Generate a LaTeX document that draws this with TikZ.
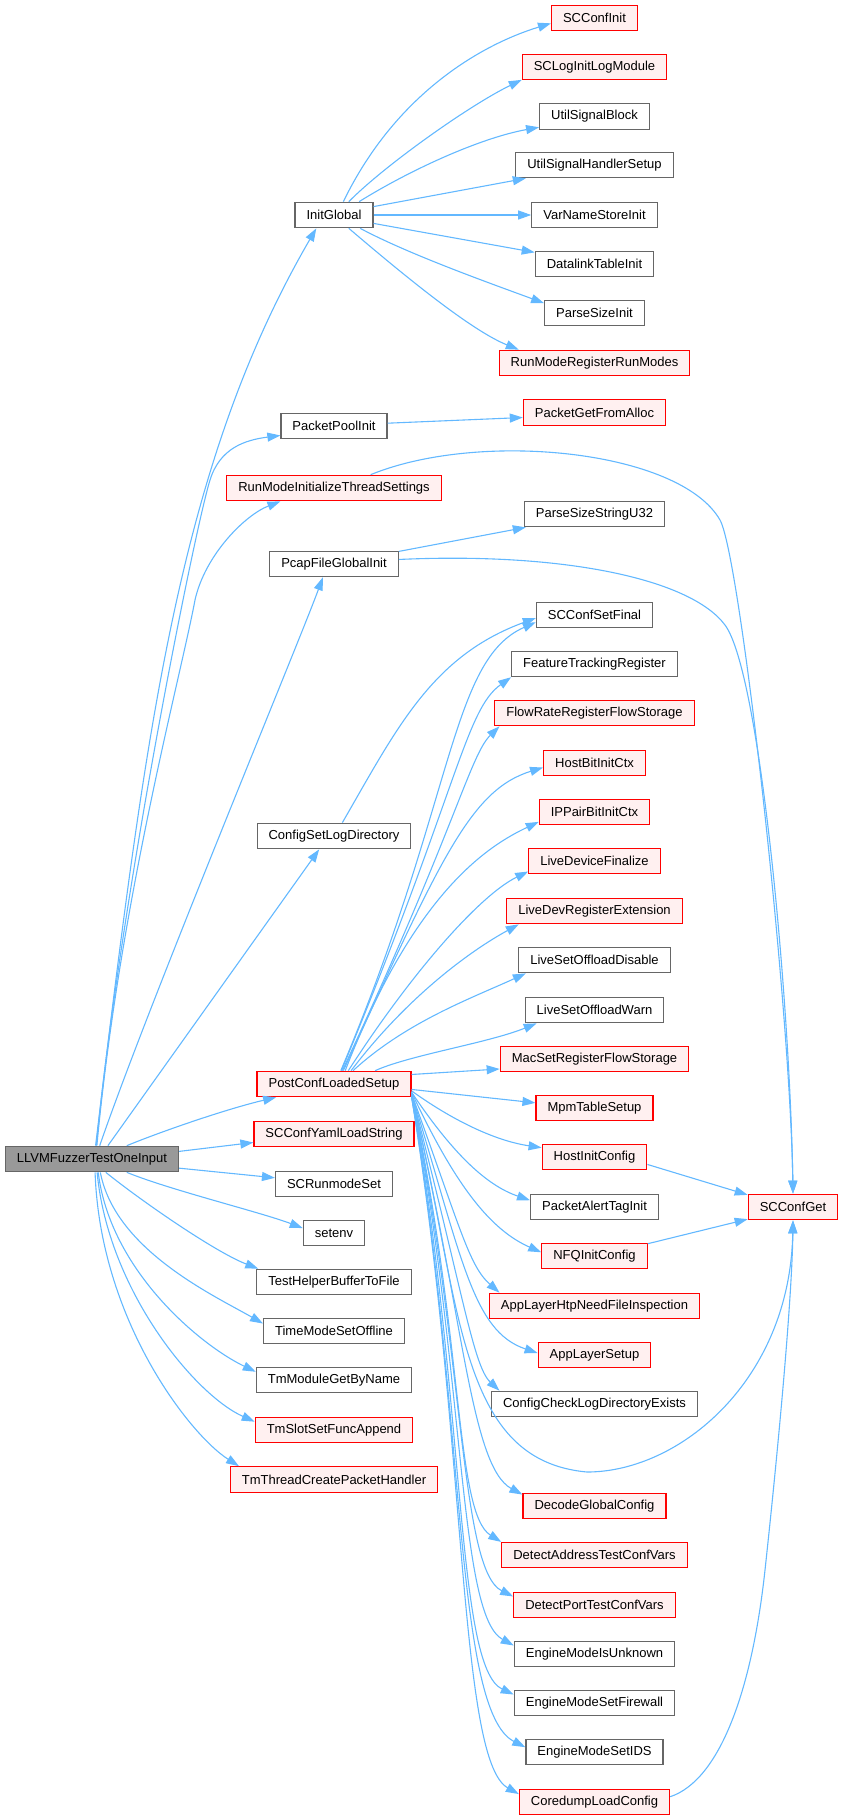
\documentclass[tikz,border=0pt]{standalone}
\usepackage{fontspec}
\setmainfont{Liberation Sans}
\usepackage{tikz}
\usetikzlibrary{arrows.meta,shapes}
\definecolor{callblue}{HTML}{63B8FF}
\definecolor{boxgray}{HTML}{666666}
\definecolor{boxred}{HTML}{FF0000}
\definecolor{redfill}{HTML}{FFF0F0}
\definecolor{rootfill}{HTML}{999999}
\tikzstyle{func}=[rectangle,draw=boxgray,fill=white,line width=1.2pt,minimum height=25.5pt,inner xsep=11.5pt,inner ysep=0pt,font=\fontsize{13}{15}\selectfont]
\tikzstyle{red func}=[func,draw=boxred,fill=redfill]
\tikzstyle{root func}=[func,fill=rootfill]
\tikzstyle{call}=[draw=callblue,line width=1.1pt,-{Triangle[length=13pt,width=9pt]}]

\begin{document}
\begin{tikzpicture}[x=1pt,y=-1pt]
    \useasboundingbox (0,0) rectangle (844,1820);
    \node[root func] (L) at (92,1159) {LLVMFuzzerTestOneInput};
    \foreach \pos/\name/\txt in {{(334,215)/IG/InitGlobal}, {(334,426)/PPI/PacketPoolInit}, {(334,564)/PFGI/PcapFileGlobalInit}, {(334,836)/CSLD/ConfigSetLogDirectory}, {(334,1184)/RMS/SCRunmodeSet}, {(334,1233)/ENV/setenv}, {(334,1282)/THB/TestHelperBufferToFile}, {(334,1331)/TMSO/TimeModeSetOffline}, {(334,1380)/TMGN/TmModuleGetByName}, {(594.5,116.5)/USB/UtilSignalBlock}, {(594.5,165)/USHS/UtilSignalHandlerSetup}, {(594.5,215)/VNSI/VarNameStoreInit}, {(594.5,264)/DLTI/DatalinkTableInit}, {(594.5,313)/PSI/ParseSizeInit}, {(594.5,514)/PSSU/ParseSizeStringU32}, {(594.5,615)/SCSF/SCConfSetFinal}, {(594.5,664)/FTR/FeatureTrackingRegister}, {(594.5,960)/LSOD/LiveSetOffloadDisable}, {(594.5,1010)/LSOW/LiveSetOffloadWarn}, {(594.5,1207)/PATI/PacketAlertTagInit}, {(594.5,1404)/CCLD/ConfigCheckLogDirectoryExists}, {(594.5,1654)/EMIU/EngineModeIsUnknown}, {(594.5,1703)/EMSF/EngineModeSetFirewall}, {(594.5,1752)/EMSI/EngineModeSetIDS}}
        \node[func] (\name) at \pos {\txt};
    \foreach \pos/\name/\txt in {{(334,488)/RMIT/RunModeInitializeThreadSettings}, {(334,1084)/PCLS/PostConfLoadedSetup}, {(334,1134)/YAML/SCConfYamlLoadString}, {(334,1430)/TSFA/TmSlotSetFuncAppend}, {(334,1479.5)/TTCP/TmThreadCreatePacketHandler}, {(594.5,18)/SCCI/SCConfInit}, {(594.5,67)/SCLI/SCLogInitLogModule}, {(594.5,363)/RMRR/RunModeRegisterRunModes}, {(594.5,412.5)/PGFA/PacketGetFromAlloc}, {(594.5,713)/FRRF/FlowRateRegisterFlowStorage}, {(594.5,763)/HBIC/HostBitInitCtx}, {(594.5,812)/IPBI/IPPairBitInitCtx}, {(594.5,861)/LDF/LiveDeviceFinalize}, {(594.5,911)/LDRE/LiveDevRegisterExtension}, {(594.5,1059)/MSRF/MacSetRegisterFlowStorage}, {(594.5,1108)/MPM/MpmTableSetup}, {(594.5,1157)/HIC/HostInitConfig}, {(594.5,1256)/NFQ/NFQInitConfig}, {(594.5,1306)/AHNF/AppLayerHtpNeedFileInspection}, {(594.5,1355)/ALS/AppLayerSetup}, {(594.5,1506)/DGC/DecodeGlobalConfig}, {(594.5,1555)/DATC/DetectAddressTestConfVars}, {(594.5,1605)/DPTC/DetectPortTestConfVars}, {(594.5,1802)/CDLC/CoredumpLoadConfig}, {(793,1207)/SCCG/SCConfGet}}
        \node[red func] (\name) at \pos {\txt};
    % straight calls
    \foreach \src/\dst in {L.5/YAML.186, L.-6/RMS.174, L.40/CSLD.222, IG.12/USHS.191, IG.east/VNSI.west, IG.-12/DLTI.169, PPI.3/PGFA.184, PFGI.11/PSSU.191, PCLS.7/MSRF.186, PCLS.-4/MPM.175, HIC.-8/SCCG.165, NFQ.13/SCCG.195}
        \path[call] (\src) -- (\dst);
    % curved calls
    \foreach \src/\dst/\ax/\ay/\bx/\by in {L.75/IG.217/145/736/177/468, L.60/PFGI.230/150/1000/300/640, L.21/PCLS.193/165/1130/230/1108, L.-21/ENV.171/170/1190/260/1212, L.-44/THB.170/140/1200/215/1252, L.-58/TMSO.174/115/1250/215/1296, L.-65/TMGN.174/110/1270/200/1345, L.-69/TSFA.174/108/1290/195/1395, L.-77/TTCP.172/100/1320/190/1435,
        IG.55/SCCI.187/395/95/480/45, IG.42/SCLI.190/385/165/470/105, IG.28/USB.191/410/170/480/138, IG.-27/PSI.169/410/255/495/285, IG.-42/RMRR.170/400/272/470/330, CSLD.58/SCSF.183/397/728/432/656,
        PCLS.63/SCSF.187/455/800/450/660, PCLS.61/FTR.189/458/790/465/710, PCLS.58/FRRF.188/455/830/470/755, PCLS.55/HBIC.185/440/860/470/790, PCLS.50/IPBI.190/415/890/490/845, PCLS.43/LDF.189/412/972/480/895, PCLS.38/LDRE.190/407/997/470/951, PCLS.35/LSOD.191/406/1022/472/998, PCLS.18/LSOW.193/410/1055/488/1043,
        PCLS.-5/HIC.170/445/1115/490/1140, PCLS.-6/PATI.174/451/1151/485/1185, PCLS.-6/NFQ.176/456/1187/491/1230, PCLS.-7/AHNF.172/460/1227/469/1266, PCLS.-7/ALS.178/462/1257/472/1331, PCLS.-7/CCLD.172/462/1287/473/1366, PCLS.-8/DGC.171/463/1310/470/1466, PCLS.-8/DATC.172/464/1340/455/1513, PCLS.-8/DPTC.174/465/1360/460/1570, PCLS.-8/EMIU.174/466/1380/458/1615, PCLS.-9/EMSF.174/466/1400/455/1667, PCLS.-9/EMSI.176/466/1420/454/1711, PCLS.-9/CDLC.174/467/1440/458/1760}
        \path[call] (\src) .. controls (\ax,\ay) and (\bx,\by) .. (\dst);
    % calls that bend twice
    \path[call] (L.72) .. controls (120,900) and (195,528) .. (210,480) .. controls (220,448) and (245,440) .. (PPI.190);
    \path[call] (L.70) .. controls (120,900) and (180,680) .. (195,600) .. controls (205,555) and (245,515) .. (RMIT.194);
    \path[call] (RMIT.20) .. controls (480,430) and (680,450) .. (720,520) .. controls (740,555) and (790,1000) .. (SCCG.north);
    \path[call] (PFGI.4) .. controls (560,552) and (690,578) .. (725,625) .. controls (760,672) and (790,1000) .. (SCCG.north);
    \path[call] (PCLS.-8) .. controls (462,1300) and (455,1460) .. (587,1472) .. controls (680,1472) and (790,1380) .. (SCCG.south);
    \path[call] (CDLC.4) .. controls (720,1780) and (752,1690) .. (765,1570) .. controls (778,1450) and (792,1300) .. (SCCG.south);
\end{tikzpicture}
\end{document}
